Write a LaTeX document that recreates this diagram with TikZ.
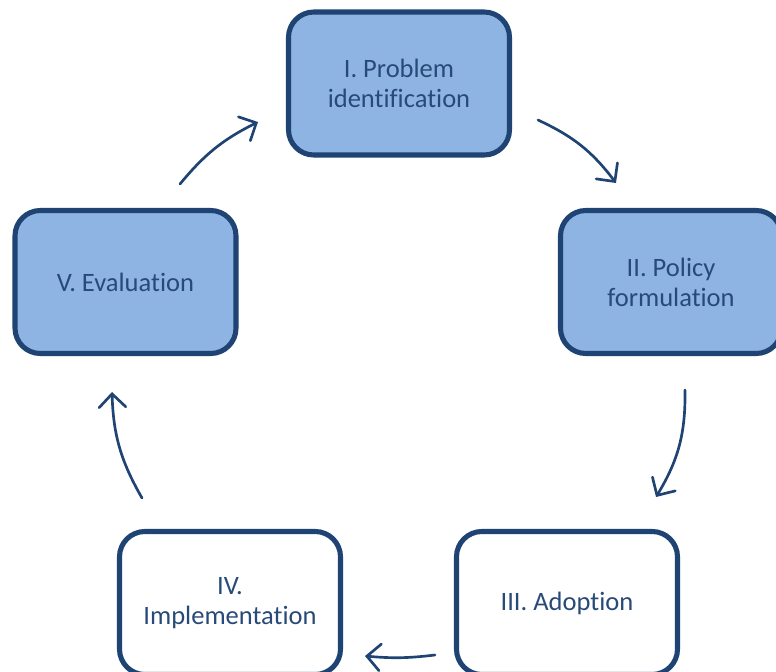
\documentclass[tikz,border=0pt]{standalone}
\usepackage{fontspec}
\setmainfont[Ligatures={NoCommon,NoRare,NoContextual}]{Carlito}
\usetikzlibrary{arrows.meta}
\definecolor{boxfill}{HTML}{8EB4E3}
\definecolor{boxline}{HTML}{1F4373}
\definecolor{boxtext}{HTML}{284A78}
\begin{document}
\begin{tikzpicture}[x=0.75pt,y=0.75pt,
  stage/.style={draw=boxline,line width=3.8pt,rounded corners=19pt,
    minimum width=221*0.75pt,minimum height=143*0.75pt,inner sep=0pt,
    text=boxtext,align=center,font=\fontsize{19.9pt}{22.5pt}\selectfont},
  blue/.style={stage,fill=boxfill},
  white/.style={stage,fill=white},
  cyc/.style={draw=boxline,line width=2pt,line cap=round,
    -{Straight Barb[length=10pt,width=20pt,line cap=round]}}]
\useasboundingbox (0,0) rectangle (776,-672);
\clip (0,0) rectangle (776,-672);
\node[blue]  (p1) at (399,-83.5) {I. Problem\\identification};
\node[blue]  (p2) at (671,-282)  {II. Policy\\formulation};
\node[white] (p3) at (567,-603)  {III. Adoption};
\node[white] (p4) at (230,-603)  {IV.\\Implementation};
\node[blue]  (p5) at (125.5,-282) {V. Evaluation};
\coordinate (a1s) at (538,-120); \coordinate (a1e) at (616,-183);
\coordinate (a2s) at (685,-390); \coordinate (a2e) at (656,-497);
\coordinate (a3s) at (435,-655); \coordinate (a3e) at (365,-656);
\coordinate (a4s) at (142,-498); \coordinate (a4e) at (112,-392);
\coordinate (a5s) at (180,-184); \coordinate (a5e) at (258,-122);
\draw[cyc] (a1s) to[bend left=14] (a1e);
\draw[cyc] (a2s) to[bend left=16] (a2e);
\draw[cyc] (a3s) to[bend left=6] (a3e);
\draw[cyc] (a4s) to[bend left=14] (a4e);
\draw[cyc] (a5s) to[bend left=12] (a5e);
\end{tikzpicture}
\end{document}
